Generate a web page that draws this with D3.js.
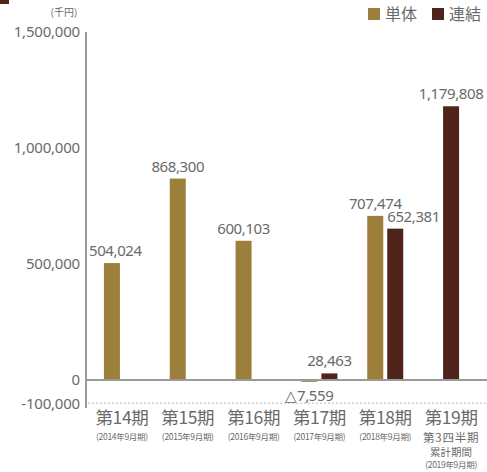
<!DOCTYPE html>
<html><head><meta charset="utf-8">
<script src="https://cdn.jsdelivr.net/npm/d3@7"></script>
<style>
html,body{margin:0;padding:0;background:#fff;}
svg{display:block;}
text{font-family:"Noto Sans","Noto Sans CJK JP",sans-serif;}
</style></head>
<body><svg id="c" width="487" height="472"></svg>
<script>
const periods = ["第14期","第15期","第16期","第17期","第18期","第19期"];
const subLabels = [["(2014年9月期)"],["(2015年9月期)"],["(2016年9月期)"],["(2017年9月期)"],["(2018年9月期)"],["第3四半期","累計期間","(2019年9月期)"]];
const tanValues = [504024, 868300, 600103, -7559, 707474, null];
const maroonValues = [null, null, null, 28463, 652381, 1179808];
const yTicks = [1500000, 1000000, 500000, 0, -100000];
const legendLabels = ["単体","連結"];
const unitLabel = "(千円)";

const colors = {tan:"#9b7f3b", maroon:"#4f241a"};
const textColor = "#6a6a6a";
const svg = d3.select("#c");
const axisX = 86;
const y = d3.scaleLinear().domain([-100000, 1500000]).range([403.2, 32]);
const x = d3.scaleBand().domain(periods).range([89, 484]);
const bw = 16, gap = 2;
const fmtN = d3.format(",");
const fmtTick = v => fmtN(v).replace("\u2212","-");
const fmtVal = v => v < 0 ? "△" + fmtN(-v) : fmtN(v);

// top-left marker (cut off title)
svg.append("rect").attr("x",0).attr("y",-6).attr("width",9).attr("height",10).attr("fill",colors.maroon);

// dotted -100000 line
svg.append("line").attr("x1",axisX+2).attr("x2",487).attr("y1",y(-100000)).attr("y2",y(-100000))
  .attr("stroke","#bbb").attr("stroke-width",1).attr("stroke-dasharray","2,2");

// y axis
const yAxis = d3.axisLeft(y).tickValues(yTicks).tickSize(0).tickPadding(6).tickFormat(fmtTick);
const ga = svg.append("g").attr("transform",`translate(${axisX},0)`).call(yAxis);
ga.select(".domain").remove();
ga.selectAll("text").attr("fill",textColor).attr("font-size",15).attr("letter-spacing","-0.2")
  .style("font-family","'Noto Sans',sans-serif");
svg.append("line").attr("x1",axisX).attr("x2",axisX).attr("y1",32).attr("y2",408)
  .attr("stroke","#7a7a7a").attr("stroke-width",1.5);

// unit
svg.append("text").attr("x",64).attr("y",16).attr("text-anchor","middle").attr("font-size",10)
  .attr("fill",textColor).style("font-family","'Noto Sans CJK JP',sans-serif").text(unitLabel);

// bars
const rows = periods.map((p,i)=>({p,i,tan:tanValues[i],mar:maroonValues[i]}));
function tanX(d){ const c = x(d.p)+x.bandwidth()/2; return c-gap-bw; }
function marX(d){ const c = x(d.p)+x.bandwidth()/2; return d.tan==null ? c-bw/2 : c+gap; }

const tanRows = rows.filter(d=>d.tan!=null);
const marRows = rows.filter(d=>d.mar!=null);
svg.selectAll("rect.tan").data(tanRows).join("rect").attr("class","tan")
  .attr("x",tanX).attr("width",bw)
  .attr("y",d=>y(Math.max(0,d.tan))).attr("height",d=>Math.max(1.8,Math.abs(y(d.tan)-y(0))))
  .attr("fill",colors.tan);
svg.selectAll("rect.mar").data(marRows).join("rect").attr("class","mar")
  .attr("x",marX).attr("width",bw)
  .attr("y",d=>y(Math.max(0,d.mar))).attr("height",d=>Math.abs(y(d.mar)-y(0)))
  .attr("fill",colors.maroon);

// zero line
svg.append("line").attr("x1",axisX).attr("x2",487).attr("y1",y(0)).attr("y2",y(0))
  .attr("stroke","#9a9a9a").attr("stroke-width",1.8);

// value labels
const lblStyle = sel => sel.attr("font-size",15).attr("fill",textColor).attr("letter-spacing","-0.4")
  .style("font-family","'Noto Sans',sans-serif");
const tanLbl = svg.selectAll("text.tl").data(tanRows).join("text").attr("class","tl")
  .attr("text-anchor","middle").attr("x",d=>tanX(d)+bw/2)
  .attr("y",d=>d.tan<0 ? y(0)+21 : y(d.tan)-7).text(d=>fmtVal(d.tan)).call(lblStyle);
tanLbl.each(function(){
  const b=this.getBBox();
  if(b.x<axisX+3){ d3.select(this).attr("x",+d3.select(this).attr("x")+(axisX+3-b.x)); }
});
const marLbl = svg.selectAll("text.ml").data(marRows).join("text").attr("class","ml")
  .attr("text-anchor","middle").attr("x",d=>marX(d)+bw/2)
  .attr("y",d=>y(d.mar)-7).text(d=>fmtVal(d.mar)).call(lblStyle);
marLbl.each(function(d){
  if(d.tan!=null && d.tan>0){
    const b=this.getBBox();
    const tr = tanX(d)+bw, tt=y(d.tan);
    if(b.x<tr && b.y+b.height>tt){ d3.select(this).attr("text-anchor","start").attr("x",marX(d)); }
  }
});

// x labels
const xl = svg.selectAll("g.xl").data(rows).join("g").attr("class","xl")
  .attr("transform",d=>`translate(${x(d.p)+x.bandwidth()/2},0)`);
xl.append("text").attr("text-anchor","middle").attr("y",424).attr("font-size",17.5)
  .attr("fill",textColor).attr("letter-spacing","-0.4").style("font-family","'Noto Sans CJK JP',sans-serif").text(d=>d.p);
const subY = [[439.5],[439.5],[439.5],[439.5],[439.5],[441.5,456,468]];
const subSize = s => s.startsWith("(") ? 8.5 : (s.length>4 ? 11.5 : 10.5);
xl.each(function(d){
  const g=d3.select(this);
  subLabels[d.i].forEach((s,k)=>{
    g.append("text").attr("text-anchor","middle").attr("y",subY[d.i][k]).attr("font-size",subSize(s))
      .attr("fill",textColor).attr("letter-spacing", s.startsWith("(")?"-0.3":(s.length>4?"0.8":"0"))
      .style("font-family","'Noto Sans CJK JP',sans-serif").text(s);
  });
});

// legend
const leg = [{t:legendLabels[0],c:colors.tan,x:368},{t:legendLabels[1],c:colors.maroon,x:432}];
leg.forEach(l=>{
  svg.append("rect").attr("x",l.x).attr("y",8).attr("width",12).attr("height",12).attr("fill",l.c);
  svg.append("text").attr("x",l.x+17).attr("y",20).attr("font-size",16).attr("fill",textColor)
    .style("font-family","'Noto Sans CJK JP',sans-serif").text(l.t);
});
</script></body></html>
